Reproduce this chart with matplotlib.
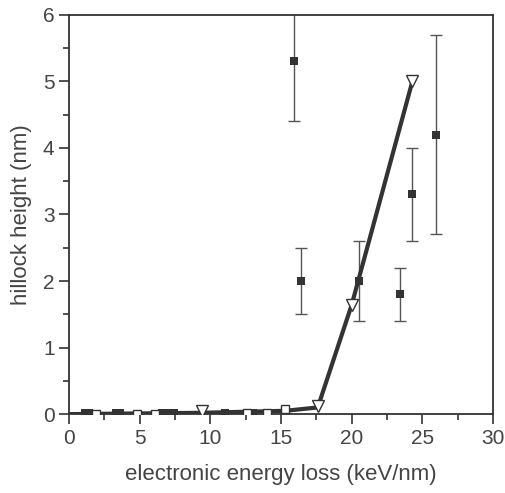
import numpy as np
import matplotlib.pyplot as plt
from matplotlib.ticker import MultipleLocator

# filled squares with error bars (measured hillocks)
sq_x = [15.9, 16.4, 20.5, 23.4, 24.3, 26.0]
sq_y = [5.3, 2.0, 2.0, 1.8, 3.3, 4.2]
sq_lo = [0.9, 0.5, 0.6, 0.4, 0.7, 1.5]
sq_hi = [0.9, 0.5, 0.6, 0.4, 0.7, 1.5]

# filled squares near zero (no hillocks)
sq0_x = [1.1, 1.4, 3.3, 3.6, 6.6, 7.0, 7.4, 11.0, 13.0]
sq0_y = [0.02, 0.02, 0.02, 0.02, 0.02, 0.02, 0.02, 0.02, 0.02]

# open squares near zero
osq_x = [1.9, 4.8, 6.1, 12.6, 14.0, 15.3]
osq_y = [0.0, 0.0, 0.0, 0.02, 0.02, 0.07]

# open triangles (model) and the line through them
tri_x = [9.4, 17.6, 20.0, 24.3]
tri_y = [0.04, 0.12, 1.64, 5.0]
line_x = [0.0, 9.4, 15.3, 17.6, 20.0, 24.3]
line_y = [0.0, 0.02, 0.05, 0.1, 1.64, 5.0]

plt.rcParams["font.family"] = ["Liberation Sans", "DejaVu Sans"]
ink = "#333333"
txt = "#444444"

fig = plt.figure(figsize=(5.05, 4.93), dpi=100)
ax = fig.add_axes([0.137, 0.160, 0.839, 0.810])

ax.errorbar(sq_x, sq_y, yerr=[sq_lo, sq_hi], fmt="none", ecolor="#555555",
            elinewidth=1.0, capsize=4, capthick=1.0, zorder=2)
ax.plot(line_x, line_y, color=ink, lw=3, zorder=3, solid_capstyle="butt")
ax.plot(sq0_x, sq0_y, "s", color=ink, ms=6, zorder=4, markeredgewidth=0)
ax.plot(osq_x, osq_y, "s", mfc="white", mec=ink, ms=6, mew=1, zorder=4)
ax.plot(tri_x, tri_y, "v", mfc="white", mec=ink, ms=8.5, mew=1, zorder=5)
ax.plot(sq_x, sq_y, "s", color=ink, ms=6, zorder=5, markeredgewidth=0)

ax.set_xlim(0, 30)
ax.set_ylim(0, 6)
ax.xaxis.set_major_locator(MultipleLocator(5))
ax.xaxis.set_minor_locator(MultipleLocator(2.5))
ax.yaxis.set_major_locator(MultipleLocator(1))
ax.yaxis.set_minor_locator(MultipleLocator(0.5))
ax.tick_params(which="both", direction="out", color=ink, width=1.2,
               labelsize=15, labelcolor=txt, top=False, right=False)
ax.tick_params(which="major", length=7)
ax.tick_params(which="minor", length=4)
for s in ax.spines.values():
    s.set_color(ink)
    s.set_linewidth(1.3)

ax.set_xlabel("electronic energy loss (keV/nm)", fontsize=16, color=txt, labelpad=12)
ax.set_ylabel("hillock height (nm)", fontsize=16, color=txt, labelpad=8)

fig.savefig("out.png", dpi=100)
